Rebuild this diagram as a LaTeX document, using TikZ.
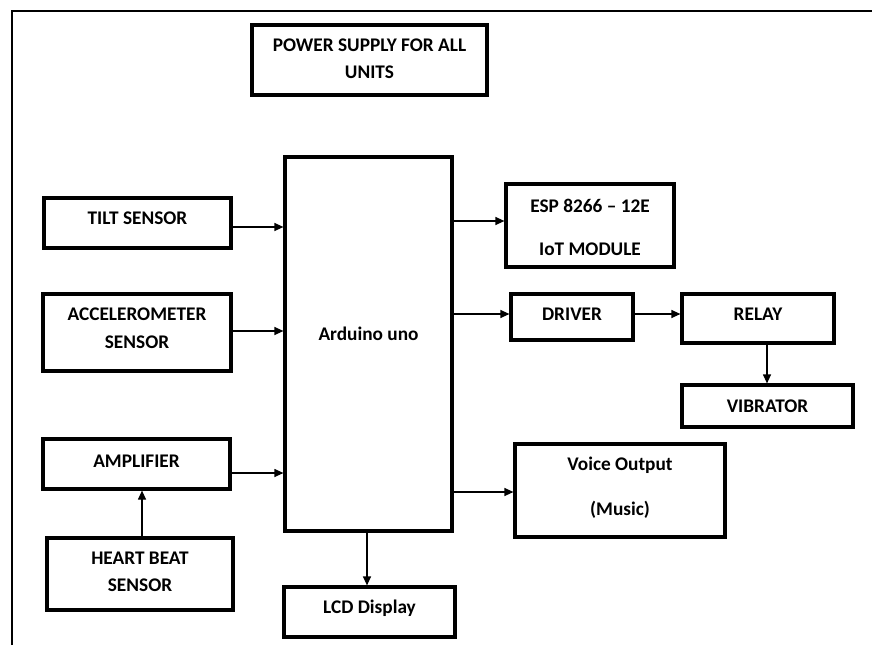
\documentclass[tikz,border=0pt]{standalone}
\usepackage{fontspec}
\setmainfont{Carlito}
\usetikzlibrary{arrows.meta}
\begin{document}
\begin{tikzpicture}[x=1pt,y=-1pt,
  box/.style={draw=black,line width=3.2pt,rectangle,inner sep=0pt},
  txt/.style={anchor=base,inner sep=0pt,font=\fontsize{19.3}{22}\selectfont\bfseries},
  arr/.style={line width=1.2pt,-{Triangle[length=9pt,width=8pt]}},
  frame/.style={line width=2.8pt}]
\useasboundingbox (0,0) rectangle (872,645);
% frame
\coordinate (fa) at (12,645);
\coordinate (fb) at (12,11);
\coordinate (fc) at (872,11);
\draw[frame] (fa) -- (fb) -- (fc);
% boxes
\node[box,minimum width=235pt,minimum height=70pt] (power) at (369.5,60) {};
\node[box,minimum width=187pt,minimum height=50pt] (tilt) at (137.5,223) {};
\node[box,minimum width=188pt,minimum height=77pt] (accel) at (137,332.5) {};
\node[box,minimum width=187pt,minimum height=50pt] (amp) at (136.5,464) {};
\node[box,minimum width=186pt,minimum height=72pt] (heart) at (140,574) {};
\node[box,minimum width=167pt,minimum height=374pt] (ard) at (368.5,344) {};
\node[box,minimum width=171pt,minimum height=50pt] (lcd) at (369.5,612) {};
\node[box,minimum width=168pt,minimum height=83pt] (esp) at (590,225.5) {};
\node[box,minimum width=122pt,minimum height=46pt] (driver) at (572,317) {};
\node[box,minimum width=152pt,minimum height=49pt] (relay) at (758,318.5) {};
\node[box,minimum width=171pt,minimum height=42pt] (vib) at (767.5,406) {};
\node[box,minimum width=210pt,minimum height=93pt] (voice) at (620,490.5) {};
% texts
\node[txt] (tpower1) at (369.5,51.5) {POWER SUPPLY FOR ALL};
\node[txt] (tpower2) at (369.5,78.5) {UNITS};
\node[txt] (ttilt) at (137.5,224.5) {TILT SENSOR};
\node[txt] (taccel1) at (137,320.5) {ACCELEROMETER};
\node[txt] (taccel2) at (137,348.5) {SENSOR};
\node[txt] (tamp) at (136.5,467.5) {AMPLIFIER};
\node[txt] (theart1) at (140,564.5) {HEART BEAT};
\node[txt] (theart2) at (140,591.5) {SENSOR};
\node[txt] (tard) at (368.5,340.5) {Arduino uno};
\node[txt] (tlcd) at (369.5,613.5) {LCD Display};
\node[txt] (tesp1) at (590,212.5) {ESP 8266 – 12E};
\node[txt] (tesp2) at (590,255.5) {IoT MODULE};
\node[txt] (tdriver) at (572,320.5) {DRIVER};
\node[txt] (trelay) at (758,320.5) {RELAY};
\node[txt] (tvib) at (767.5,412.5) {VIBRATOR};
\node[txt] (tvoice1) at (620,470.5) {Voice Output};
\node[txt] (tvoice2) at (620,515.5) {(Music)};
% connectors
\draw[arr] (tilt.east |- 0,227) -- (ard.west |- 0,227);
\draw[arr] (accel.east |- 0,331) -- (ard.west |- 0,331);
\draw[arr] (amp.east |- 0,473) -- (ard.west |- 0,473);
\draw[arr] (heart.north -| 142,0) -- (amp.south -| 142,0);
\draw[arr] (ard.east |- 0,221) -- (esp.west |- 0,221);
\draw[arr] (ard.east |- 0,314) -- (driver.west |- 0,314);
\draw[arr] (driver.east |- 0,314) -- (relay.west |- 0,314);
\draw[arr] (relay.south -| 767,0) -- (vib.north -| 767,0);
\draw[arr] (ard.east |- 0,492) -- (voice.west |- 0,492);
\draw[arr] (ard.south -| 367,0) -- (lcd.north -| 367,0);
\end{tikzpicture}
\end{document}
